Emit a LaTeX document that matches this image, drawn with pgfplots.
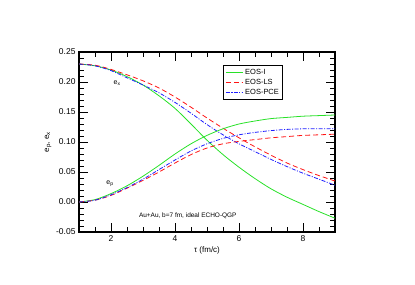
\documentclass[border=0pt]{standalone}
\usepackage{fontspec}
\setmainfont{Liberation Sans}
\usepackage{pgfplots}
\pgfplotsset{compat=1.18}
\definecolor{cgreen}{RGB}{40,225,40}
\definecolor{cred}{RGB}{255,20,20}
\definecolor{cblue}{RGB}{30,30,255}
\begin{document}
\begin{tikzpicture}
\begin{axis}[
  name=ax,
  scale only axis,
  width=256bp, height=180bp,
  xmin=1, xmax=9, ymin=-0.05, ymax=0.25,
  xtick={2,4,6,8},
  minor xtick={1.5,2.5,3,3.5,4.5,5,5.5,6.5,7,7.5,8.5},
  ytick={-0.05,0,0.05,0.1,0.15,0.2,0.25},
  minor ytick={-0.04,-0.03,-0.02,-0.01,0.01,0.02,0.03,0.04,0.06,0.07,0.08,0.09,0.11,0.12,0.13,0.14,0.16,0.17,0.18,0.19,0.21,0.22,0.23,0.24},
  tick align=inside,
  major tick length=9bp,
  minor tick length=5bp,
  axis line style={line width=1.3pt},
  every tick/.style={black, line width=0.9pt},
  yticklabel style={/pgf/number format/fixed, /pgf/number format/fixed zerofill, /pgf/number format/precision=2},
  /pgf/number format/assume math mode=true,
  ticklabel style={font=\fontsize{8.5}{10}\selectfont},
  scaled y ticks=false,
  xlabel={τ (fm/c)},
  ylabel={e\textsubscript{p}, e\textsubscript{x}},
  label style={font=\fontsize{8}{10}\selectfont},
  xlabel style={yshift=2bp},
  ylabel style={yshift=-2bp},
  legend style={at={(0.5625,0.928)}, anchor=north west, draw=black, line width=0.9pt, font=\fontsize{7.5}{9}\selectfont, row sep=-1pt, inner sep=2pt},
  legend cell align=left,
  every axis plot/.append style={smooth, tension=0.5},
]
% e_x curves
\addplot[cgreen, line width=0.8pt] coordinates {
(1.0,0.230)(1.5,0.227)(2.0,0.220)(2.5,0.209)(3.0,0.195)(3.5,0.177)(4.0,0.156)(4.5,0.130)(5.0,0.103)(5.5,0.079)(6.0,0.058)(6.5,0.039)(7.0,0.022)(7.5,0.008)(8.0,-0.004)(8.5,-0.016)(9.0,-0.027)};
\addlegendentry{EOS-I}
\addplot[cred, line width=0.8pt, dash pattern=on 5pt off 3pt] coordinates {
(1.0,0.230)(1.5,0.228)(2.0,0.221)(2.5,0.212)(3.0,0.202)(3.5,0.190)(4.0,0.175)(4.5,0.158)(5.0,0.140)(5.5,0.123)(6.0,0.107)(6.5,0.092)(7.0,0.078)(7.5,0.065)(8.0,0.054)(8.5,0.044)(9.0,0.035)};
\addlegendentry{EOS-LS}
\addplot[cblue, line width=0.8pt, dash pattern=on 4pt off 1.5pt on 1pt off 1.5pt] coordinates {
(1.0,0.230)(1.5,0.227)(2.0,0.219)(2.5,0.207)(3.0,0.195)(3.5,0.182)(4.0,0.166)(4.5,0.148)(5.0,0.129)(5.5,0.112)(6.0,0.097)(6.5,0.084)(7.0,0.071)(7.5,0.059)(8.0,0.048)(8.5,0.038)(9.0,0.028)};
\addlegendentry{EOS-PCE}
% e_p curves
\addplot[cgreen, line width=0.8pt, forget plot] coordinates {
(1.0,0.000)(1.5,0.004)(2.0,0.014)(2.5,0.027)(3.0,0.043)(3.5,0.061)(4.0,0.080)(4.5,0.097)(5.0,0.111)(5.5,0.122)(6.0,0.130)(6.5,0.135)(7.0,0.139)(7.5,0.141)(8.0,0.143)(8.5,0.144)(9.0,0.145)};
\addplot[cred, line width=0.8pt, dash pattern=on 5pt off 3pt, forget plot] coordinates {
(1.0,0.000)(1.5,0.003)(2.0,0.011)(2.5,0.023)(3.0,0.036)(3.5,0.050)(4.0,0.065)(4.5,0.079)(5.0,0.090)(5.5,0.097)(6.0,0.101)(6.5,0.104)(7.0,0.107)(7.5,0.109)(8.0,0.111)(8.5,0.112)(9.0,0.113)};
\addplot[cblue, line width=0.8pt, dash pattern=on 4pt off 1.5pt on 1pt off 1.5pt, forget plot] coordinates {
(1.0,0.000)(1.5,0.003)(2.0,0.012)(2.5,0.024)(3.0,0.038)(3.5,0.054)(4.0,0.070)(4.5,0.085)(5.0,0.097)(5.5,0.106)(6.0,0.112)(6.5,0.116)(7.0,0.119)(7.5,0.121)(8.0,0.122)(8.5,0.122)(9.0,0.122)};
\node[font=\fontsize{7}{8}\selectfont] at (axis cs:2.19,0.198) {e\textsubscript{x}};
\node[font=\fontsize{7}{8}\selectfont] at (axis cs:1.97,0.031) {e\textsubscript{p}};
\node[font=\fontsize{6.5}{8}\selectfont] at (axis cs:4.4,-0.023) {Au+Au, b=7 fm, ideal ECHO-QGP};
\end{axis}
\path[use as bounding box] ([shift={(-79bp,-53bp)}]ax.south west) rectangle ++(415bp,285bp);
\end{tikzpicture}
\end{document}
